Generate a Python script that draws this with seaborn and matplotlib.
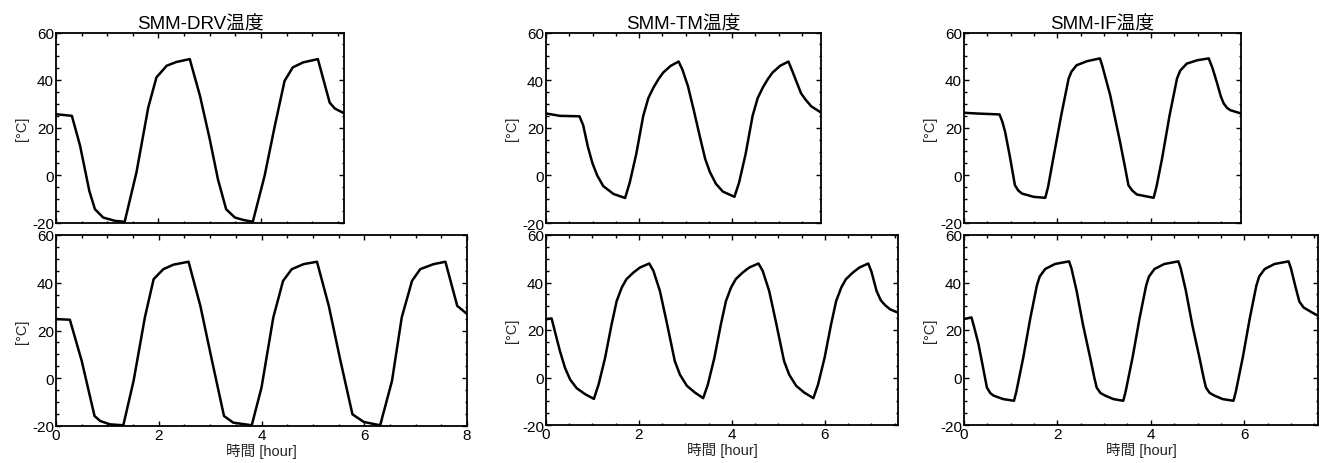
import matplotlib
matplotlib.use("Agg")
import matplotlib.pyplot as plt
import seaborn as sns
import pandas as pd
from matplotlib.ticker import MultipleLocator

# ---------------- data ----------------
titles = ["SMM-DRV温度", "SMM-TM温度", "SMM-IF温度"]
xlabel = "時間 [hour]"
ylabel = "[°C]"

drv_top_t = [0, 0.18, 0.31, 0.47, 0.65, 0.76, 0.92, 1.15, 1.34, 1.57, 1.80, 1.96, 2.16, 2.35, 2.61,
             2.81, 3.00, 3.16, 3.32, 3.49, 3.65, 3.84, 4.07, 4.27, 4.46, 4.62, 4.82, 5.11, 5.34, 5.44, 5.62]
drv_top_T = [25.6, 25.2, 24.9, 12.3, -6.7, -14.4, -17.9, -19.3, -19.7, 1.1, 28.4, 41.1, 46.0, 47.6, 48.8,
             33.3, 15.1, -1.8, -14.4, -17.9, -18.9, -19.7, -0.4, 20.7, 39.6, 45.3, 47.4, 48.8, 30.5, 28.0, 26.0]

drv_bot_t = [0, 0.27, 0.50, 0.75, 0.86, 1.05, 1.31, 1.51, 1.73, 1.90, 2.09, 2.29, 2.58, 2.81, 3.03,
             3.27, 3.45, 3.81, 4.00, 4.23, 4.42, 4.59, 4.82, 5.08, 5.31, 5.53, 5.77, 5.99, 6.31,
             6.54, 6.73, 6.93, 7.09, 7.35, 7.58, 7.81, 7.97, 8.0]
drv_bot_T = [24.8, 24.5, 7.3, -15.8, -17.9, -19.3, -19.7, -1.1, 25.5, 41.5, 45.7, 47.6, 48.8, 30.3, 8.0,
             -15.8, -18.6, -19.7, -3.9, 25.5, 40.8, 45.7, 47.8, 48.8, 30.3, 8.0, -15.1, -18.3, -19.7,
             -1.1, 25.5, 40.8, 45.7, 47.8, 48.8, 30.3, 27.5, 26.9]

tm_top_t = [0, 0.30, 0.72, 0.80, 0.90, 1.00, 1.10, 1.23, 1.45, 1.70,
            1.80, 1.94, 2.09, 2.20, 2.31, 2.42, 2.52, 2.68, 2.85,
            2.93, 3.05, 3.18, 3.31, 3.42, 3.52, 3.65, 3.80, 4.05,
            4.15, 4.29, 4.44, 4.55, 4.66, 4.77, 4.87, 5.03, 5.21,
            5.30, 5.39, 5.48, 5.57, 5.70, 5.91]
tm_top_T = [26.0, 25.0, 24.8, 21.0, 12.0, 5.0, 0.0, -4.5, -7.8, -9.5,
            -3.0, 9.0, 25.0, 32.5, 36.9, 40.5, 43.2, 46.0, 47.8,
            44.5, 37.5, 27.0, 16.0, 7.0, 1.5, -3.5, -6.8, -9.0,
            -3.0, 9.0, 25.0, 32.5, 36.9, 40.5, 43.2, 46.0, 47.8,
            43.5, 39.0, 34.5, 32.0, 29.0, 26.4]

tm_bot_t = [0, 0.12, 0.19, 0.30, 0.41, 0.52, 0.66, 0.84, 1.03,
            1.13, 1.27, 1.41, 1.52, 1.63, 1.73, 1.88, 2.02, 2.22,
            2.31, 2.45, 2.59, 2.77, 2.88, 3.03, 3.20, 3.38,
            3.48, 3.62, 3.76, 3.87, 3.98, 4.08, 4.23, 4.37, 4.57,
            4.66, 4.80, 4.94, 5.12, 5.23, 5.38, 5.55, 5.75,
            5.85, 5.99, 6.13, 6.24, 6.35, 6.45, 6.60, 6.74, 6.93,
            7.00, 7.11, 7.20, 7.29, 7.40, 7.57]
tm_bot_T = [24.5, 24.9, 19.5, 11.1, 4.0, -0.9, -4.5, -7.0, -9.0,
            -3.0, 8.2, 22.3, 32.2, 37.9, 41.4, 44.2, 46.3, 48.0,
            44.9, 36.4, 23.8, 6.9, 1.2, -3.5, -6.3, -8.7,
            -3.0, 8.2, 22.3, 32.2, 37.9, 41.4, 44.2, 46.3, 48.0,
            44.9, 36.4, 23.8, 6.9, 1.2, -3.5, -6.3, -8.7,
            -3.0, 8.2, 22.3, 32.2, 37.9, 41.4, 44.2, 46.3, 48.0,
            44.5, 36.4, 32.5, 30.5, 28.7, 27.3]

if_top_t = [0, 0.27, 0.76, 0.82, 0.88, 0.98, 1.09, 1.16, 1.24, 1.49, 1.74,
            1.80, 1.91, 2.08, 2.24, 2.30, 2.41, 2.63, 2.91,
            2.96, 3.13, 3.34, 3.45, 3.52, 3.60, 3.70, 4.06,
            4.12, 4.24, 4.40, 4.56, 4.63, 4.77, 4.99, 5.24,
            5.32, 5.41, 5.50, 5.56, 5.63, 5.70, 5.93]
if_top_T = [26.2, 25.9, 25.5, 22.5, 18.2, 8.0, -4.3, -6.5, -7.8, -9.2, -9.6,
            -5.0, 6.9, 25.0, 40.6, 43.5, 46.2, 47.9, 49.1,
            46.0, 33.6, 14.0, 3.0, -4.3, -6.5, -8.2, -9.6,
            -5.0, 6.9, 25.0, 40.6, 44.0, 46.9, 48.3, 49.1,
            45.0, 39.2, 33.0, 30.1, 28.3, 27.3, 25.9]

if_bot_t = [0, 0.16, 0.22, 0.31, 0.40, 0.49, 0.56, 0.63, 0.84, 1.07,
            1.12, 1.27, 1.42, 1.56, 1.62, 1.74, 1.95, 2.25,
            2.30, 2.41, 2.55, 2.70, 2.79, 2.84, 2.92, 3.02, 3.20, 3.41,
            3.46, 3.61, 3.76, 3.90, 3.96, 4.08, 4.29, 4.59,
            4.64, 4.75, 4.89, 5.04, 5.13, 5.18, 5.26, 5.36, 5.54, 5.77,
            5.82, 5.97, 6.12, 6.26, 6.32, 6.44, 6.65, 6.95,
            7.00, 7.10, 7.18, 7.27, 7.45, 7.58]
if_bot_T = [24.6, 25.3, 21.0, 14.1, 5.0, -4.2, -6.5, -7.6, -9.1, -9.8,
            -6.0, 8.5, 25.0, 38.7, 42.5, 45.7, 47.8, 48.9,
            46.0, 36.6, 22.0, 8.5, 0.0, -4.2, -6.5, -7.6, -9.1, -9.8,
            -6.0, 8.5, 25.0, 38.7, 42.5, 45.7, 47.8, 48.9,
            46.0, 36.6, 22.0, 8.5, 0.0, -4.2, -6.5, -7.6, -9.1, -9.8,
            -6.0, 8.5, 25.0, 38.7, 42.5, 45.7, 47.8, 48.9,
            46.0, 38.0, 32.0, 29.5, 27.4, 26.0]

xmax_top = [5.62, 5.91, 5.93]
xmax_bot = [8.0, 7.57, 7.58]
yticks = [-20, 0, 20, 40, 60]

# ---------------- style ----------------
sns.set_theme(style="ticks")
plt.rcParams['font.family'] = ['Liberation Sans', 'Noto Sans CJK JP', 'DejaVu Sans']
plt.rcParams['axes.unicode_minus'] = False

W, H = 1323, 464
fig = plt.figure(figsize=(W / 100, H / 100), dpi=100)

def box(l, r, t, b):
    return [l / W, 1 - b / H, (r - l) / W, (b - t) / H]

rects_top = [box(56, 344, 33.5, 223.5), box(546, 821, 33.5, 224), box(964, 1241, 33.5, 223.5)]
rects_bot = [box(56, 467, 236, 427), box(546, 898, 236, 426), box(964, 1318, 236, 426)]

top_data = [(drv_top_t, drv_top_T), (tm_top_t, tm_top_T), (if_top_t, if_top_T)]
bot_data = [(drv_bot_t, drv_bot_T), (tm_bot_t, tm_bot_T), (if_bot_t, if_bot_T)]

def style_ax(ax, xmax, show_xlabels):
    ax.set_xlim(0, xmax)
    ax.set_ylim(-20, 60)
    ax.set_yticks(yticks)
    ax.xaxis.set_major_locator(MultipleLocator(2))
    ax.xaxis.set_minor_locator(MultipleLocator(0.5))
    ax.yaxis.set_minor_locator(MultipleLocator(5))
    ax.tick_params(which='both', direction='in', top=True, right=True,
                   colors='black', width=1.0)
    ax.tick_params(which='major', length=3.5, labelsize=11, pad=1.5)
    ax.tick_params(which='minor', length=1.8)
    for s in ax.spines.values():
        s.set_color('black')
        s.set_linewidth(1.3)
    ax.set_ylabel(ylabel, fontsize=10.5, labelpad=2)
    if not show_xlabels:
        ax.tick_params(axis='x', labelbottom=False)
        ax.set_xlabel("")
    else:
        ax.set_xlabel(xlabel, fontsize=10.5, labelpad=1)

for i in range(3):
    ax = fig.add_axes(rects_top[i])
    t, T = top_data[i]
    df = pd.DataFrame({"t": t, "T": T})
    sns.lineplot(data=df, x="t", y="T", ax=ax, color='black', lw=1.8,
                 sort=False, estimator=None)
    style_ax(ax, xmax_top[i], False)
    ax.set_title(titles[i], fontsize=13.5, pad=3, color='black')

    ax2 = fig.add_axes(rects_bot[i])
    t, T = bot_data[i]
    df = pd.DataFrame({"t": t, "T": T})
    sns.lineplot(data=df, x="t", y="T", ax=ax2, color='black', lw=1.8,
                 sort=False, estimator=None)
    style_ax(ax2, xmax_bot[i], True)

fig.savefig("out.png", dpi=100, facecolor='white')
